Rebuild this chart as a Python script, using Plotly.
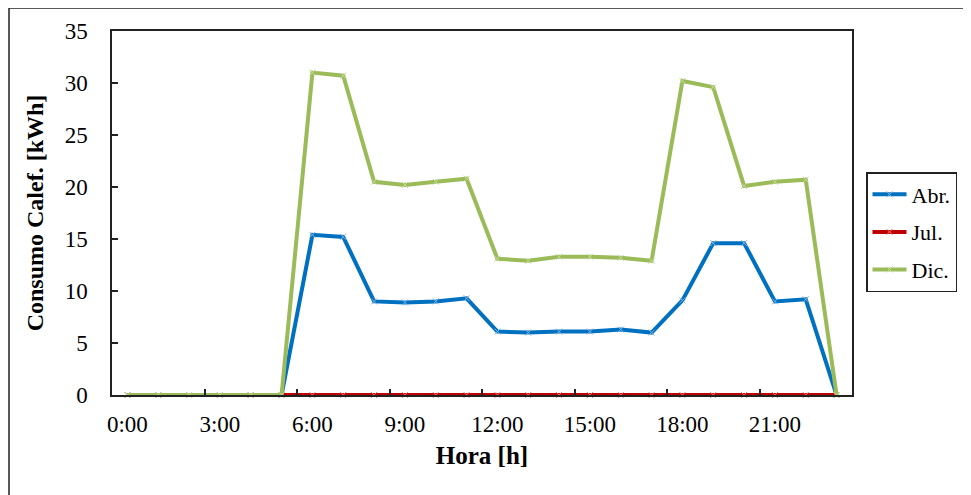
import plotly.graph_objects as go

hours = list(range(24))
tick_hours = [0, 3, 6, 9, 12, 15, 18, 21]
tick_labels = [f"{h}:00" for h in tick_hours]

abr = [0, 0, 0, 0, 0, 0, 15.4, 15.2, 9.0, 8.9, 9.0, 9.3, 6.1, 6.0, 6.1, 6.1, 6.3, 6.0, 9.1, 14.6, 14.6, 9.0, 9.2, 0]
jul = [0] * 24
dic = [0, 0, 0, 0, 0, 0, 31.0, 30.7, 20.5, 20.2, 20.5, 20.8, 13.1, 12.9, 13.3, 13.3, 13.2, 12.9, 30.2, 29.6, 20.1, 20.5, 20.7, 0]

series = [("Abr.", abr, "#0070C0", "#7FB3E0"),
          ("Jul.", jul, "#C00000", "#E88080"),
          ("Dic.", dic, "#9BBB59", "#C4D99C")]

fig = go.Figure()
for i, (name, vals, col, mcol) in enumerate(series):
    fig.add_trace(go.Scatter(
        x=hours, y=vals, name=name, mode="lines+markers",
        line=dict(color=col, width=4),
        marker=dict(symbol="x-thin", size=6, line=dict(color=mcol, width=1), color=mcol),
        cliponaxis=False, legendgroup=f"g{i}"))

font_family = "Liberation Serif, Times New Roman, serif"
OFF = 8  # page body offset
W, H = 971 - OFF, 495 - OFF
x0, x1, yt, yb = 112 - OFF, 852 - OFF, 31 - OFF, 395 - OFF

def px2x(px):
    return (px - OFF - x0) / (x1 - x0)

def py2y(py):
    return (yb - (py - OFF)) / (yb - yt)

fig.update_layout(
    width=W, height=H,
    margin=dict(l=x0, r=W - x1, t=yt, b=H - yb, autoexpand=False),
    paper_bgcolor="white", plot_bgcolor="white",
    font=dict(family=font_family, size=23, color="black"),
    showlegend=True,
    legend=dict(x=px2x(866), y=py2y(172), xanchor="left", yanchor="top",
                bordercolor="#222", borderwidth=1.5, font=dict(size=22),
                tracegroupgap=6, itemwidth=34),
    shapes=[dict(type="rect", xref="paper", yref="paper",
                 x0=px2x(9), x1=px2x(985), y0=py2y(8), y1=py2y(510),
                 line=dict(color="#222", width=1.5), layer="below")],
)
fig.update_xaxes(
    range=[-0.5, 23.5], tickmode="array", tickvals=tick_hours, ticktext=tick_labels,
    ticks="", showgrid=False, zeroline=False,
    showline=True, linecolor="#222", linewidth=1.5, mirror=True,
    ticklabelstandoff=8,
    minor=dict(tickvals=[2.5, 5.5, 8.5, 11.5, 14.5, 17.5, 20.5], ticks="inside",
               ticklen=6, tickcolor="#222", tickwidth=1.5, showgrid=False),
    title=dict(text="<b>Hora [h]</b>", font=dict(size=25), standoff=10),
)
fig.update_yaxes(
    range=[0, 35], tickvals=[0, 5, 10, 15, 20, 25, 30, 35],
    ticks="inside", ticklen=6, tickcolor="#222", tickwidth=1.5,
    showgrid=False, zeroline=False,
    showline=True, linecolor="#222", linewidth=1.5, mirror=True,
    ticklabelstandoff=18,
    title=dict(text="<b>Consumo Calef. [kWh]</b>", font=dict(size=24), standoff=14),
)

fig.write_html("out.html")
